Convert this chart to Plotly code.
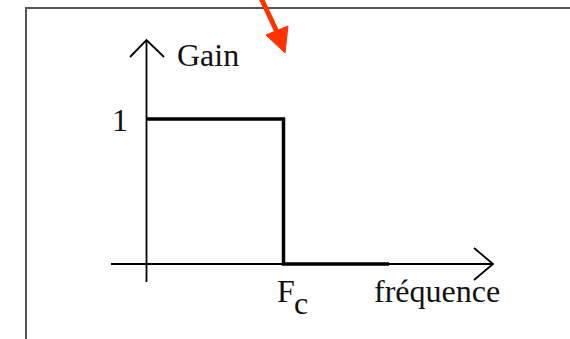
import plotly.graph_objects as go

W, H = 570, 339

# Ideal low-pass filter response (frequency normalised to Fc = 1)
freq = [0, 1, 1, 1.77]
gain = [1, 1, 0, 0]
fc_value = 1
pass_gain = 1
tick_gain_label = "1"
fc_label = ("F", "c")
x_title = "fréquence"
y_title = "Gain"

# scale: data -> pixels
X0_PX, PX_PER_F = 146.5, 137.0
Y0_PX, PX_PER_G = 264.0, 145.0


def fx(px):
    return (px - X0_PX) / PX_PER_F


def fy(py):
    return (Y0_PX - py) / PX_PER_G


x_range = [fx(0), fx(W)]
y_range = [fy(H), fy(0)]

FONT = "Liberation Serif, Times New Roman, serif"
fig = go.Figure()

# axes (decorative arrows)
axis_style = dict(color="black", width=1.8)
fig.add_trace(go.Scatter(x=[0, 0], y=[fy(282), fy(40)], mode="lines", line=axis_style, hoverinfo="skip"))
fig.add_trace(go.Scatter(x=[fx(130), 0, fx(164)], y=[fy(57), fy(40), fy(57)], mode="lines", line=axis_style, hoverinfo="skip"))
fig.add_trace(go.Scatter(x=[fx(111), fx(493)], y=[0, 0], mode="lines", line=axis_style, hoverinfo="skip"))
fig.add_trace(go.Scatter(x=[fx(474), fx(493), fx(474)], y=[fy(248), 0, fy(280)], mode="lines", line=axis_style, hoverinfo="skip"))

# response
fig.add_trace(go.Scatter(x=freq, y=gain, mode="lines", line=dict(color="black", width=3.5), hoverinfo="skip"))

shapes = [
    # outer frame
    dict(type="rect", xref="paper", yref="paper", x0=26 / W, x1=1.05, y0=-0.05, y1=1 - 8 / H,
         line=dict(color="#555555", width=2), fillcolor="rgba(0,0,0,0)", layer="below"),
]


def P(px, py):
    return f"{px / W:.5f},{1 - py / H:.5f}"


shapes.append(dict(type="path", xref="paper", yref="paper",
                   path=f"M{P(261, -2)} L{P(277, 32)}",
                   line=dict(color="#FF3300", width=5)))
shapes.append(dict(type="path", xref="paper", yref="paper",
                   path=f"M{P(266, 35)} L{P(288, 26)} L{P(285, 53)} Z",
                   line=dict(color="#FF3300", width=1), fillcolor="#FF3300"))

annotations = [
    dict(text=y_title, x=fx(175), y=fy(55), xref="x", yref="y", xanchor="left", yanchor="middle",
         showarrow=False, font=dict(family=FONT, size=32, color="#111111")),
    dict(text=tick_gain_label, x=0, y=pass_gain, xref="x", yref="y", xanchor="center", yanchor="middle",
         xshift=-27, yshift=-1, showarrow=False, font=dict(family=FONT, size=32, color="#111111")),
    dict(text=fc_label[0], x=fc_value, y=0, xref="x", yref="y", xanchor="left", yanchor="middle",
         xshift=-9, yshift=-27, showarrow=False, font=dict(family=FONT, size=32, color="#111111")),
    dict(text=fc_label[1], x=fc_value, y=0, xref="x", yref="y", xanchor="left", yanchor="middle",
         xshift=8, yshift=-39, showarrow=False, font=dict(family=FONT, size=32, color="#111111")),
    dict(text=x_title, x=fx(372), y=0, xref="x", yref="y", xanchor="left", yanchor="middle",
         yshift=-27, showarrow=False, font=dict(family=FONT, size=32, color="#111111")),
]

fig.update_layout(
    width=W, height=H,
    margin=dict(l=0, r=0, t=0, b=0),
    paper_bgcolor="white", plot_bgcolor="white",
    showlegend=False, hovermode=False,
    xaxis=dict(range=x_range, visible=False, fixedrange=True),
    yaxis=dict(range=y_range, visible=False, fixedrange=True),
    shapes=shapes, annotations=annotations,
)

fig.write_html("out.html", config={"displayModeBar": False},
               post_script="document.body.style.margin='0px';document.body.style.overflow='hidden';")
